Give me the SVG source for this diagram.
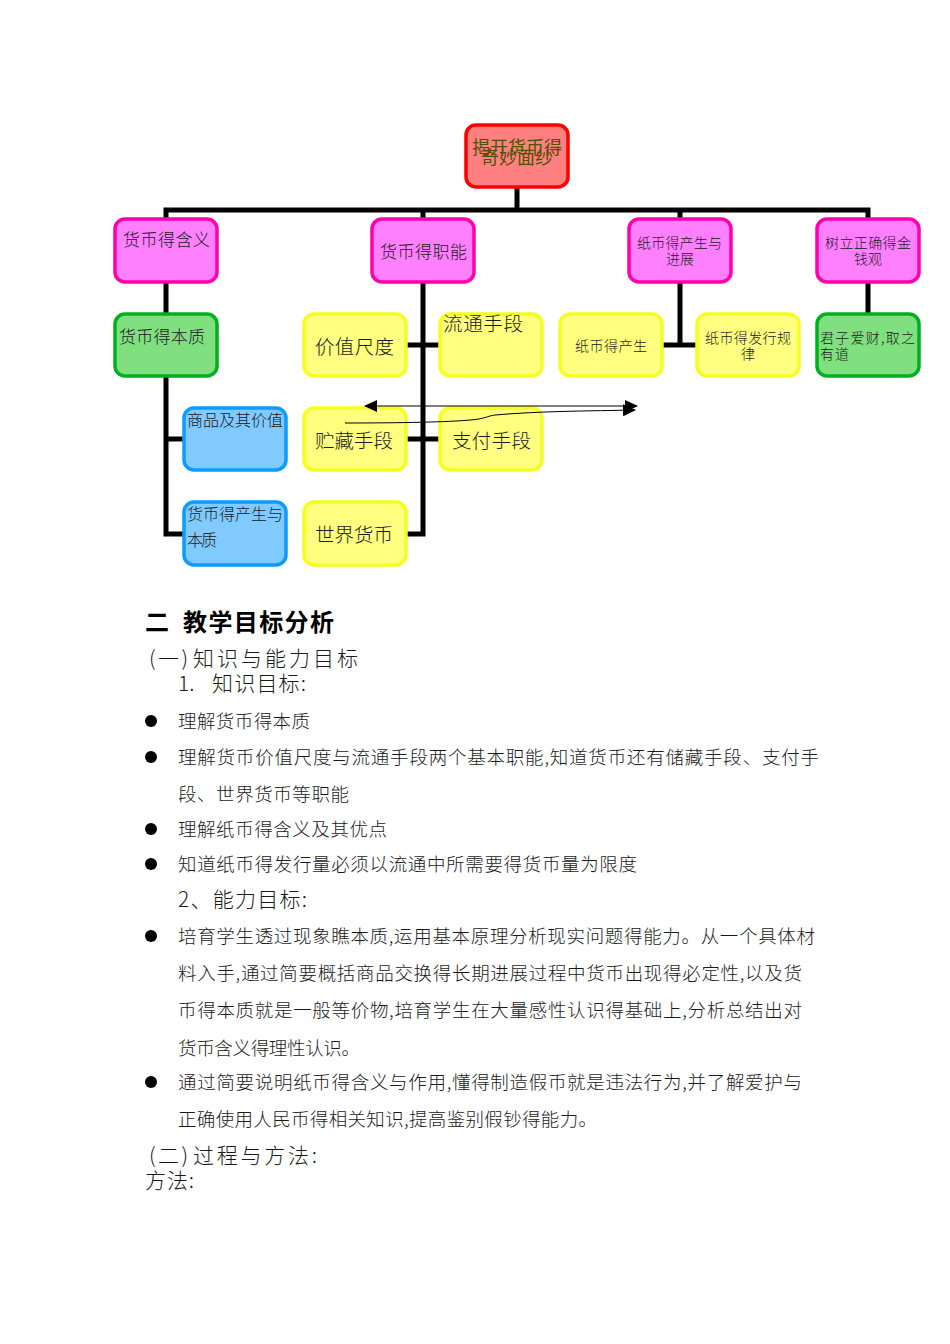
<svg xmlns="http://www.w3.org/2000/svg" width="950" height="1344" viewBox="0 0 950 1344">
<style>
text{font-family:"Noto Sans CJK SC","Noto Sans CJK JP",sans-serif;fill:#1a1a1a;font-weight:300}
.box{stroke-width:3.5}
.root{fill:#ff8080;stroke:#ff0000}
.mag{fill:#ff80ff;stroke:#ff00aa}
.grn{fill:#80e080;stroke:#00b020}
.yel{fill:#ffff80;stroke:#f4ff20}
.blu{fill:#80caff;stroke:#0a9cff}
.c{fill:none;stroke:#000;stroke-width:5}
.t{fill:none;stroke:#000;stroke-width:1}
.b{font-size:18.5px}
.h{font-size:21px}
.bullet{fill:#000}
.olive{fill:#4f5200;font-weight:400}
.bold{font-weight:700;fill:#000}
</style>
<defs>
<marker id="ah" markerUnits="userSpaceOnUse" markerWidth="14" markerHeight="12" refX="12" refY="6" orient="auto-start-reverse"><path d="M0 0L13 6L0 12Z" fill="#000"/></marker>
</defs>
<g id="connectors">
<path class="c" d="M517 187V210M166 219V210H868V219M423 210V219M680 210V219"/>
<path class="c" d="M166 282V314M166 376V534H184M166 439H184"/>
<path class="c" d="M423 282V534H406M406 345H440M406 439H440"/>
<path class="c" d="M680 282V345M662 345H697"/>
<path class="c" d="M868 282V314"/>
</g>
<g id="n-root"><rect class="box root" x="466" y="125" width="102" height="62" rx="10"/><text class="olive" x="472" y="154" font-size="18" textLength="90">揭开货币得</text><text class="olive" x="481" y="164" font-size="18" textLength="72">奇妙面纱</text></g>
<g id="n-hanyi"><rect class="box mag" x="115" y="219" width="102" height="63" rx="10"/><text x="123" y="246" font-size="17" textLength="87">货币得含义</text></g>
<g id="n-zhineng"><rect class="box mag" x="372" y="219" width="102" height="63" rx="10"/><text x="380" y="258" font-size="17" textLength="87">货币得职能</text></g>
<g id="n-zhibi"><rect class="box mag" x="629" y="219" width="102" height="63" rx="10"/><text x="637" y="248" font-size="14" textLength="85">纸币得产生与</text><text x="666" y="264" font-size="14" textLength="28">进展</text></g>
<g id="n-jinqian"><rect class="box mag" x="817" y="219" width="102" height="63" rx="10"/><text x="825" y="248" font-size="14" textLength="86">树立正确得金</text><text x="854" y="264" font-size="14" textLength="28">钱观</text></g>
<g id="n-benzhi"><rect class="box grn" x="115" y="314" width="102" height="62" rx="10"/><text x="119" y="343" font-size="17" textLength="86">货币得本质</text></g>
<g id="n-jiazhi"><rect class="box yel" x="304" y="314" width="102" height="62" rx="10"/><text x="315" y="354" font-size="19.5" textLength="79">价值尺度</text></g>
<g id="n-liutong"><rect class="box yel" x="440" y="314" width="102" height="62" rx="10"/><text x="443" y="331" font-size="19.5" textLength="80">流通手段</text></g>
<g id="n-chansheng"><rect class="box yel" x="560" y="314" width="102" height="62" rx="10"/><text x="575" y="351" font-size="14" textLength="72">纸币得产生</text></g>
<g id="n-faxing"><rect class="box yel" x="697" y="314" width="102" height="62" rx="10"/><text x="705" y="343" font-size="14" textLength="86">纸币得发行规</text><text x="741" y="359" font-size="14">律</text></g>
<g id="n-junzi"><rect class="box grn" x="817" y="314" width="102" height="62" rx="10"/><text x="820" y="343" font-size="14" textLength="95">君子爱财,取之</text><text x="820" y="359" font-size="14" textLength="29">有道</text></g>
<g id="n-shangpin"><rect class="box blu" x="184" y="408" width="102" height="62" rx="10"/><text x="187" y="426" font-size="16" textLength="96">商品及其价值</text></g>
<g id="n-zhucang"><rect class="box yel" x="304" y="408" width="102" height="62" rx="10"/><text x="315" y="448" font-size="19.5" textLength="78">贮藏手段</text></g>
<g id="n-zhifu"><rect class="box yel" x="440" y="408" width="102" height="62" rx="10"/><text x="452" y="448" font-size="19.5" textLength="79">支付手段</text></g>
<g id="n-chansheng2"><rect class="box blu" x="184" y="502" width="102" height="63" rx="10"/><text x="187" y="520" font-size="16" textLength="96">货币得产生与</text><text x="187" y="546" font-size="16" textLength="30">本质</text></g>
<g id="n-shijie"><rect class="box yel" x="304" y="502" width="102" height="63" rx="10"/><text x="315" y="542" font-size="19.5" textLength="78">世界货币</text></g>
<g id="thin-arrows">
<path class="t" d="M365 406H637" marker-start="url(#ah)" marker-end="url(#ah)"/>
<path class="t" d="M345 423C400 423 450 422 470 420C485 419 487 416 495 415C540 411 590 411 635 410" marker-end="url(#ah)"/>
</g>
<g id="body">
<text class="bold" x="145" y="631" font-size="24">二</text>
<text class="bold" x="183" y="631" font-size="24" textLength="151">教学目标分析</text>
<text class="h" x="149" y="666" textLength="39">(一)</text>
<text class="h" x="193" y="666" textLength="165">知识与能力目标</text>
<text class="h" x="178" y="691">1.</text>
<text class="h" x="212" y="691" textLength="94">知识目标:</text>
<circle class="bullet" cx="151" cy="721" r="6"/><text class="b" x="178" y="728" textLength="132">理解货币得本质</text>
<circle class="bullet" cx="151" cy="757" r="6"/><text class="b" x="178" y="764" textLength="641">理解货币价值尺度与流通手段两个基本职能,知道货币还有储藏手段、支付手</text>
<text class="b" x="178" y="801" textLength="171">段、世界货币等职能</text>
<circle class="bullet" cx="151" cy="829" r="6"/><text class="b" x="178" y="836" textLength="209">理解纸币得含义及其优点</text>
<circle class="bullet" cx="151" cy="864" r="6"/><text class="b" x="178" y="871" textLength="459">知道纸币得发行量必须以流通中所需要得货币量为限度</text>
<text class="h" x="178" y="907" textLength="129">2、能力目标:</text>
<circle class="bullet" cx="151" cy="936" r="6"/><text class="b" x="178" y="943" textLength="637">培育学生透过现象瞧本质,运用基本原理分析现实问题得能力。从一个具体材</text>
<text class="b" x="178" y="980" textLength="624">料入手,通过简要概括商品交换得长期进展过程中货币出现得必定性,以及货</text>
<text class="b" x="178" y="1017" textLength="624">币得本质就是一般等价物,培育学生在大量感性认识得基础上,分析总结出对</text>
<text class="b" x="178" y="1055" textLength="182">货币含义得理性认识。</text>
<circle class="bullet" cx="151" cy="1082" r="6"/><text class="b" x="178" y="1089" textLength="624">通过简要说明纸币得含义与作用,懂得制造假币就是违法行为,并了解爱护与</text>
<text class="b" x="178" y="1126" textLength="419">正确使用人民币得相关知识,提高鉴别假钞得能力。</text>
<text class="h" x="149" y="1163" textLength="39">(二)</text>
<text class="h" x="193" y="1163" textLength="124">过程与方法:</text>
<text class="h" x="145" y="1188" textLength="49">方法:</text>
</g>
</svg>
